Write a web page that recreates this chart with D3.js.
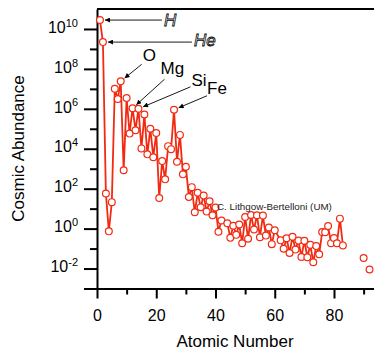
<!DOCTYPE html>
<html>
<head>
<meta charset="utf-8">
<script src="https://cdn.jsdelivr.net/npm/d3@7/dist/d3.min.js"></script>
<style>
  body { margin: 0; background: #fff; }
  svg { display: block; font-family: "Liberation Sans", Arial, Helvetica, sans-serif; }
</style>
</head>
<body>
<svg id="chart" width="374" height="350"></svg>
<script>
// solar system abundances, normalised to Si = 1e6 (Tc and Pm absent)
const atomicNumbers = [
  1, 2, 3, 4, 5, 6, 7, 8, 9, 10, 11, 12, 13, 14, 15, 16, 17, 18, 19, 20,
  21, 22, 23, 24, 25, 26, 27, 28, 29, 30, 31, 32, 33, 34, 35, 36, 37, 38, 39, 40,
  41, 42, 44, 45, 46, 47, 48, 49, 50, 51, 52, 53, 54, 55, 56, 57, 58, 59, 60,
  62, 63, 64, 65, 66, 67, 68, 69, 70, 71, 72, 73, 74, 75, 76, 77, 78, 79, 80,
  81, 82, 83
];
const abundances = [
  2.79e10, 2.2e9, 57.1, 0.73, 21.2, 1.01e7, 3.13e6, 2.38e7, 843, 3.44e6,
  5.74e4, 1.074e6, 8.49e4, 1.0e6, 1.04e4, 5.15e5, 5240, 1.01e5, 3770, 6.11e4,
  34.2, 2400, 293, 1.35e4, 9550, 9.0e5, 2250, 4.93e4, 522, 1260,
  37.8, 119, 6.56, 62.1, 11.8, 45, 7.09, 23.5, 4.64, 11.4,
  0.698, 2.55, 1.86, 0.344, 1.39, 0.486, 1.61, 0.184, 3.82, 0.309,
  4.81, 0.90, 4.7, 0.372, 4.49, 0.446, 1.136, 0.167, 0.828,
  0.258, 0.0973, 0.33, 0.0603, 0.394, 0.0889, 0.251, 0.0378, 0.248, 0.0367,
  0.154, 0.0207, 0.133, 0.0517, 0.675, 0.661, 1.34, 0.187, 0.34,
  0.184, 3.15, 0.144
];
// Th and U, drawn without a connecting line
const heavyNumbers = [90, 92];
const heavyAbundances = [0.0335, 0.009];

const xMajorTicks = [0, 20, 40, 60, 80];
const xMinorTicks = [10, 30, 50, 70, 90];
const yMajorExponents = [-2, 0, 2, 4, 6, 8, 10];
const yMinorExponents = [-1, 1, 3, 5, 7, 9];

const annotations = [
  { z: 1, text: 'H', outline: true },
  { z: 2, text: 'He', outline: true },
  { z: 8, text: 'O' },
  { z: 12, text: 'Mg' },
  { z: 14, text: 'Si' },
  { z: 26, text: 'Fe' }
];
// label / arrow-start offsets from the marked point, in px
const annotationLayout = {
  H:  { label: [64, 6],     start: [62, 0] },
  He: { label: [91, 4],     start: [89, 0] },
  O:  { label: [22, -20],   start: [21, -17] },
  Mg: { label: [28, -34],   start: [32, -29] },
  Si: { label: [53, -23],   start: [52, -22] },
  Fe: { label: [33, -16],   start: [33, -14] }
};

const red = '#f22a12';
const svg = d3.select('#chart');

const x = d3.scaleLinear().domain([0, 94]).range([97, 97 + 94 * 2.9625]);
const y = d3.scaleLog().domain([1e-3, 1e11]).range([288.5, 9]);

const points = atomicNumbers.map((z, i) => ({ z, v: abundances[i] }));
const heavy = heavyNumbers.map((z, i) => ({ z, v: heavyAbundances[i] }));

// Top frame line
svg.append('line')
  .attr('x1', x(0)).attr('x2', x(94))
  .attr('y1', y(1e11)).attr('y2', y(1e11))
  .attr('stroke', '#000').attr('stroke-width', 2);

// X axis
const xAxisG = svg.append('g').attr('transform', `translate(0,${y(1e-3)})`);
xAxisG.append('g')
  .call(d3.axisBottom(x).tickValues(xMajorTicks).tickSize(10).tickSizeOuter(0).tickPadding(11))
  .call(g => g.select('.domain').attr('stroke-width', 2))
  .call(g => g.selectAll('.tick line').attr('stroke-width', 2))
  .call(g => g.selectAll('.tick text').attr('font-size', 16).attr('font-family', null).attr('fill', '#000'));
xAxisG.append('g')
  .call(d3.axisBottom(x).tickValues(xMinorTicks).tickSize(6).tickSizeOuter(0).tickFormat(''))
  .call(g => g.select('.domain').remove())
  .call(g => g.selectAll('.tick line').attr('stroke-width', 2));

// Y axis
const yAxisG = svg.append('g').attr('transform', `translate(${x(0)},0)`);
yAxisG.append('g')
  .call(d3.axisLeft(y).tickValues(yMajorExponents.map(e => Math.pow(10, e)))
    .tickSize(13).tickSizeOuter(0).tickPadding(6).tickFormat(''))
  .call(g => g.select('.domain').attr('stroke-width', 2))
  .call(g => g.selectAll('.tick line').attr('stroke-width', 2))
  .call(g => g.selectAll('.tick text').each(function (d) {
    const t = d3.select(this).attr('font-family', null).attr('fill', '#000');
    t.append('tspan').attr('font-size', 16).text('10');
    t.append('tspan').attr('font-size', 11).attr('dy', '-0.55em')
      .text(Math.round(Math.log10(d)));
  }));
yAxisG.append('g')
  .call(d3.axisLeft(y).tickValues(yMinorExponents.map(e => Math.pow(10, e)))
    .tickSize(7).tickSizeOuter(0).tickFormat(''))
  .call(g => g.select('.domain').remove())
  .call(g => g.selectAll('.tick line').attr('stroke-width', 2));
yAxisG.append('g')
  .call(d3.axisLeft(y).tickValues([1e-3]).tickSize(13).tickSizeOuter(0).tickFormat(''))
  .call(g => g.select('.domain').remove())
  .call(g => g.selectAll('.tick line').attr('stroke-width', 2));

// Axis titles
svg.append('text')
  .attr('x', 235).attr('y', 347)
  .attr('text-anchor', 'middle').attr('font-size', 17)
  .text('Atomic Number');
svg.append('text')
  .attr('transform', `translate(24,${148.5}) rotate(-90)`)
  .attr('text-anchor', 'middle').attr('font-size', 17)
  .text('Cosmic Abundance');

// Series line
svg.append('path')
  .datum(points)
  .attr('fill', 'none')
  .attr('stroke', red)
  .attr('stroke-width', 1.8)
  .attr('stroke-linejoin', 'round')
  .attr('d', d3.line().x(d => x(d.z)).y(d => y(d.v)));

// Markers
svg.append('g')
  .selectAll('circle')
  .data(points.concat(heavy))
  .join('circle')
  .attr('cx', d => x(d.z))
  .attr('cy', d => y(d.v))
  .attr('r', 3.4)
  .attr('fill', '#fff')
  .attr('stroke', red)
  .attr('stroke-width', 1.2);

// Credit
svg.append('text')
  .attr('x', 217).attr('y', 209.5)
  .attr('font-size', 9.8).attr('fill', '#222')
  .text('C. Lithgow-Bertelloni (UM)');

// Arrowhead
svg.append('defs').append('marker')
  .attr('id', 'arrow')
  .attr('viewBox', '0 0 10 10')
  .attr('refX', 10).attr('refY', 5)
  .attr('markerWidth', 7).attr('markerHeight', 5)
  .attr('markerUnits', 'userSpaceOnUse')
  .attr('orient', 'auto')
  .append('path').attr('d', 'M0,0L10,5L0,10z').attr('fill', '#000');

// Annotations
const annG = svg.append('g');
annotations.forEach(a => {
  const p = points.find(d => d.z === a.z);
  const px = x(p.z), py = y(p.v);
  const lay = annotationLayout[a.text];
  const sx = px + lay.start[0], sy = py + lay.start[1];
  const dx = px - sx, dy = py - sy, len = Math.hypot(dx, dy);
  const ex = px - dx / len * 5, ey = py - dy / len * 5;
  annG.append('line')
    .attr('x1', sx).attr('y1', sy).attr('x2', ex).attr('y2', ey)
    .attr('stroke', '#000').attr('stroke-width', 0.9)
    .attr('marker-end', 'url(#arrow)');
  const t = annG.append('text')
    .attr('x', px + lay.label[0]).attr('y', py + lay.label[1])
    .attr('font-size', 17)
    .text(a.text);
  if (a.outline) {
    t.attr('font-style', 'italic').attr('fill', '#fff')
      .attr('stroke', '#000').attr('stroke-width', 0.8);
  }
});
</script>
</body>
</html>
